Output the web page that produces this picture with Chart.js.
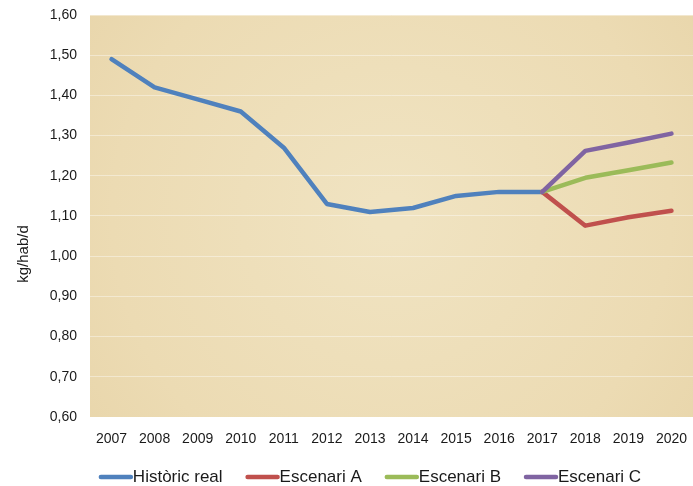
<!DOCTYPE html>
<html>
<head>
<meta charset="utf-8">
<script src="https://cdn.jsdelivr.net/npm/chart.js@4.4.1/dist/chart.umd.min.js"></script>
<style>
  html, body { margin: 0; padding: 0; background: #ffffff; }
  #wrap { width: 693px; height: 486px; }
</style>
</head>
<body>
<div id="wrap"><canvas id="chart" width="693" height="486"></canvas></div>
<script>
// Residus per habitant: sèrie històrica i escenaris de projecció
const years = ['2007','2008','2009','2010','2011','2012','2013','2014','2015','2016','2017','2018','2019','2020'];
const historic  = [1.49, 1.42, 1.39, 1.36, 1.27, 1.13, 1.11, 1.12, 1.15, 1.16, 1.16, null, null, null];
const scenarioA = [null, null, null, null, null, null, null, null, null, null, 1.16, 1.076, 1.097, 1.113];
const scenarioB = [null, null, null, null, null, null, null, null, null, null, 1.16, 1.195, 1.214, 1.233];
const scenarioC = [null, null, null, null, null, null, null, null, null, null, 1.16, 1.262, 1.283, 1.305];
const seriesNames = ['Històric real', 'Escenari A', 'Escenari B', 'Escenari C'];
const seriesColors = ['#4F81BD', '#C0504D', '#9BBB59', '#8064A2'];
const yMin = 0.6, yMax = 1.6, yStep = 0.1;
const yTitle = 'kg/hab/d';

const FONT = "'Liberation Sans', Arial, sans-serif";

function fmtComma(v) { return v.toFixed(2).replace('.', ','); }

// Sandy panel behind the plot area
const panelBackground = {
  id: 'panelBackground',
  beforeDraw(chart) {
    const { ctx, chartArea: a } = chart;
    ctx.save();
    const cx = (a.left + a.right) / 2, cy = (a.top + a.bottom) / 2;
    const g = ctx.createRadialGradient(cx, cy, 20, cx, cy, Math.max(a.width, a.height) * 0.75);
    g.addColorStop(0, '#F0E3C1');
    g.addColorStop(0.6, '#ECDBB3');
    g.addColorStop(1, '#E6D2A5');
    ctx.fillStyle = g;
    ctx.fillRect(a.left, a.top, a.width, a.height);
    ctx.restore();
  }
};

// Rotated axis title and line legend under the x axis
const annotations = {
  id: 'annotations',
  afterDraw(chart) {
    const ctx = chart.ctx;
    ctx.save();
    ctx.fillStyle = '#1a1a1a';
    ctx.font = '15px ' + FONT;
    ctx.translate(24, 254);
    ctx.rotate(-Math.PI / 2);
    ctx.textAlign = 'center';
    ctx.textBaseline = 'middle';
    ctx.fillText(yTitle, 0, 0);
    ctx.restore();

    ctx.save();
    ctx.font = '17px ' + FONT;
    ctx.textBaseline = 'middle';
    ctx.textAlign = 'left';
    const lineLen = 34, gapText = 0, gapItem = 23, y = 477;
    const items = chart.data.datasets.map(ds => ({
      label: ds.label, color: ds.borderColor, w: ctx.measureText(ds.label).width
    }));
    const total = items.reduce((s, it) => s + lineLen + gapText + it.w, 0) + gapItem * (items.length - 1);
    let x = 370 - total / 2;
    items.forEach(it => {
      ctx.strokeStyle = it.color;
      ctx.lineWidth = 4.5;
      ctx.lineCap = 'round';
      ctx.beginPath();
      ctx.moveTo(x + 2, y);
      ctx.lineTo(x + lineLen - 2, y);
      ctx.stroke();
      ctx.fillStyle = '#1a1a1a';
      ctx.fillText(it.label, x + lineLen + gapText, y);
      x += lineLen + gapText + it.w + gapItem;
    });
    ctx.restore();
  }
};

const seriesData = [historic, scenarioA, scenarioB, scenarioC];

new Chart(document.getElementById('chart'), {
  type: 'line',
  data: {
    labels: years,
    datasets: seriesData.map((d, i) => ({
      label: seriesNames[i],
      data: d,
      borderColor: seriesColors[i],
      backgroundColor: seriesColors[i],
      borderWidth: 4.5,
      pointRadius: 0,
      pointHoverRadius: 0,
      tension: 0,
      borderCapStyle: 'round',
      borderJoinStyle: 'round',
      spanGaps: false,
      order: i === 0 ? 4 : 4 - i
    }))
  },
  options: {
    responsive: false,
    animation: false,
    events: [],
    layout: { padding: { top: 15, right: -6, bottom: 31, left: 0 } },
    plugins: {
      legend: { display: false },
      tooltip: { enabled: false },
      title: { display: false }
    },
    scales: {
      x: {
        offset: true,
        grid: { display: false, drawTicks: false },
        border: { display: false },
        ticks: {
          color: '#1a1a1a',
          font: { family: FONT, size: 14 },
          padding: 14,
          maxRotation: 0,
          autoSkip: false
        },
        afterFit(scale) {
          scale.height = 38;
          scale.paddingLeft = 0;
          scale.paddingRight = 0;
        }
      },
      y: {
        min: yMin,
        max: yMax,
        grid: {
          color: 'rgba(255,255,255,0.4)',
          lineWidth: 1,
          drawTicks: false
        },
        border: { display: false },
        ticks: {
          stepSize: yStep,
          color: '#1a1a1a',
          font: { family: FONT, size: 14 },
          padding: 13,
          callback: v => fmtComma(v)
        },
        afterFit(scale) {
          scale.width = 90;
          scale.paddingTop = 0;
          scale.paddingBottom = 0;
        }
      }
    }
  },
  plugins: [panelBackground, annotations]
});
</script>
</body>
</html>
